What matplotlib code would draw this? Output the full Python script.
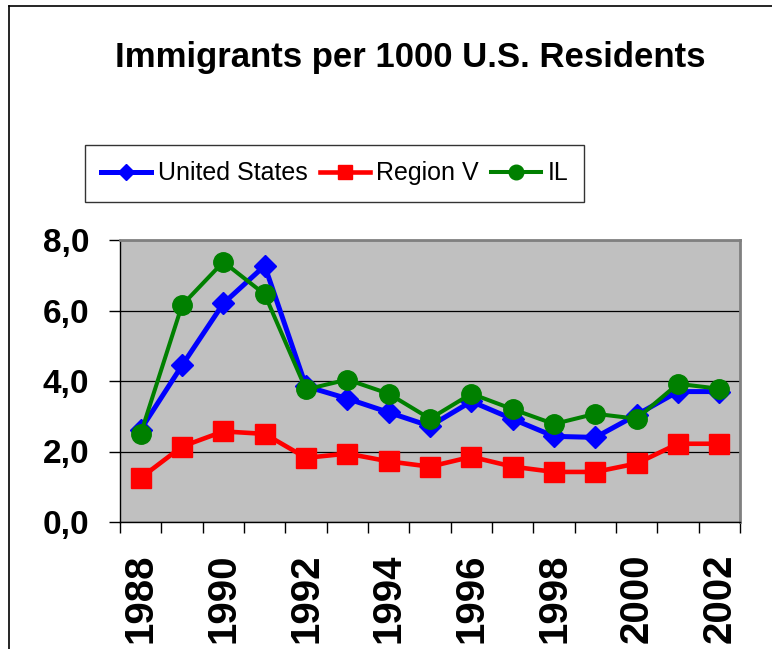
import matplotlib
matplotlib.use("Agg")
import matplotlib.pyplot as plt
from matplotlib import font_manager
from matplotlib.lines import Line2D
import numpy as np

years = list(range(1988, 2003))
us = [2.62, 4.44, 6.20, 7.27, 3.85, 3.50, 3.11, 2.72, 3.42, 2.92, 2.43, 2.40, 3.04, 3.70, 3.70]
region_v = [1.25, 2.14, 2.57, 2.50, 1.82, 1.94, 1.72, 1.57, 1.85, 1.57, 1.42, 1.42, 1.66, 2.22, 2.22]
il = [2.50, 6.15, 7.38, 6.46, 3.76, 4.04, 3.64, 2.93, 3.64, 3.20, 2.78, 3.07, 2.93, 3.92, 3.78]
series_names = ["United States", "Region V", "IL"]
yticks = [0.0, 2.0, 4.0, 6.0, 8.0]
title = "Immigrants per 1000 U.S. Residents"

names = {f.name for f in font_manager.fontManager.ttflist}
base = "Liberation Sans" if "Liberation Sans" in names else "DejaVu Sans"

W, H = 772, 649
fig = plt.figure(figsize=(W / 100, H / 100), dpi=100)
fig.patch.set_facecolor("white")

# outer border (top and left)
fig.add_artist(Line2D([9 / W, 9 / W], [0, 1 - 6 / H], color="black", lw=1.2, transform=fig.transFigure))
fig.add_artist(Line2D([9 / W, 1], [1 - 6 / H, 1 - 6 / H], color="black", lw=1.2, transform=fig.transFigure))

ax = fig.add_axes([120 / W, (H - 522) / H, 620 / W, 282 / H])
ax.set_facecolor("#C0C0C0")

x = np.arange(len(years))
ax.plot(x, us, color="#0000FF", lw=3.6, marker="D", ms=11, label=series_names[0], zorder=3)
ax.plot(x, region_v, color="#FF0000", lw=3.3, marker="s", ms=14, label=series_names[1], zorder=3)
ax.plot(x, il, color="#008000", lw=2.9, marker="o", ms=14, label=series_names[2], zorder=4)

ax.set_xlim(-0.5, len(years) - 0.5)
ax.set_ylim(0, 8)
ax.set_yticks(yticks)
ax.set_yticklabels([f"{v:.1f}".replace(".", ",") for v in yticks],
                   fontfamily=base, fontweight="bold", fontsize=24)
ax.tick_params(axis="y", length=8, width=1, pad=14, colors="black")

ax.set_xticks(np.arange(-0.5, len(years), 1.0))
ax.set_xticklabels([])
ax.tick_params(axis="x", which="major", length=8, width=1)
ax.set_xticks(x[::2], minor=True)
ax.set_xticklabels([str(y) for y in years[::2]], minor=True, rotation=90,
                   fontfamily=base, fontweight="bold", fontsize=29, va="top")
ax.tick_params(axis="x", which="minor", length=0, pad=23)

ax.grid(axis="y", color="black", lw=0.9)
ax.set_axisbelow(True)
for s in ["top", "right"]:
    ax.spines[s].set_color("#808080")
    ax.spines[s].set_linewidth(2)
for s in ["left", "bottom"]:
    ax.spines[s].set_color("black")
    ax.spines[s].set_linewidth(1)

fig.text(410 / W, 1 - 67 / H, title, ha="center", va="baseline",
         fontfamily=base, fontweight="bold", fontsize=25)

leg = fig.legend(loc="upper left", bbox_to_anchor=(85 / W, 1 - 145 / H), ncol=3,
                 frameon=True, fancybox=False, edgecolor="black", borderaxespad=0,
                 prop={"family": base, "size": 18}, handlelength=2.0, handletextpad=0.25,
                 columnspacing=0.5, borderpad=0.65, markerscale=0.75)
leg.get_frame().set_linewidth(1)

fig.savefig("out.png", dpi=100)
